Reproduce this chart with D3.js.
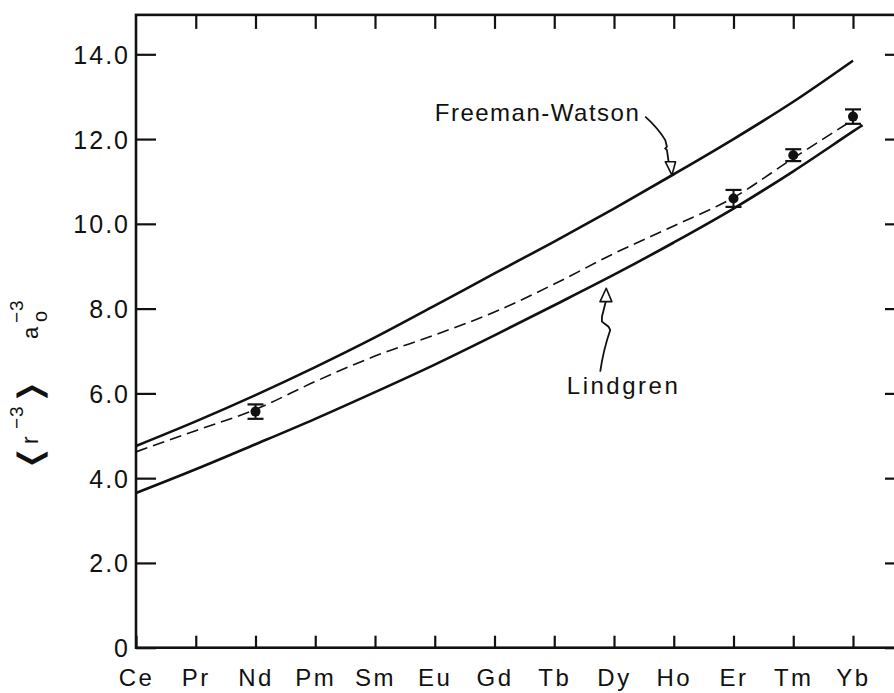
<!DOCTYPE html>
<html>
<head>
<meta charset="utf-8">
<script src="https://cdn.jsdelivr.net/npm/d3@7"></script>
<style>
  html, body { margin: 0; padding: 0; background: #fff; overflow: hidden; }
  svg { display: block; }
  text { font-family: "Liberation Sans", Arial, Helvetica, sans-serif; fill: #111; }
</style>
</head>
<body>
<svg id="chart" width="894" height="693"></svg>
<script>
// Rare-earth series (x positions are element indices, Ce = 0)
const elements = ["Ce", "Pr", "Nd", "Pm", "Sm", "Eu", "Gd", "Tb", "Dy", "Ho", "Er", "Tm", "Yb"];

// <r^-3> in units of a0^-3
const freemanWatson = [4.76, 5.34, 5.96, 6.62, 7.32, 8.07, 8.83, 9.58, 10.36, 11.17, 12.00, 12.88, 13.85];
const lindgrenPos = [0, 1, 2, 3, 4, 5, 6, 7, 8, 9, 10, 11, 12, 12.16];
const lindgren = [3.65, 4.21, 4.80, 5.40, 6.03, 6.68, 7.37, 8.08, 8.80, 9.56, 10.36, 11.24, 12.18, 12.33];
const interpolated = [4.62, 5.12, 5.62, 6.28, 6.88, 7.38, 7.92, 8.58, 9.30, 9.95, 10.62, 11.55, 12.45];

// Experimental values with error bars
const measuredElements = ["Nd", "Er", "Tm", "Yb"];
const measuredValues = [5.57, 10.60, 11.62, 12.53];
const measuredErrors = [0.17, 0.20, 0.14, 0.17];

const yTicks = [0, 2, 4, 6, 8, 10, 12, 14];
const yTickLabels = ["0", "2.0", "4.0", "6.0", "8.0", "10.0", "12.0", "14.0"];

const svg = d3.select("#chart");

const x = d3.scaleLinear().domain([0, 12]).range([136, 853]);
const y = d3.scaleLinear().domain([0, 14]).range([647.7, 54.3]);

const xMax = 12.87;   // right frame edge (beyond the last element)
const yMax = 14.93;   // top frame edge

const ink = "#111";

// Axes (ticks point inward on all four sides)
const gBottom = svg.append("g").attr("transform", `translate(0,${y(0)})`)
  .call(d3.axisBottom(x).tickValues(d3.range(0, 13)).tickSize(-12)
        .tickFormat(i => elements[i]));
gBottom.selectAll("text").attr("y", 38).attr("dy", 0)
  .style("font-size", "24px").style("letter-spacing", "2.5px");

const gTop = svg.append("g").attr("transform", `translate(0,${y(yMax)})`)
  .call(d3.axisTop(x).tickValues(d3.range(1, 13)).tickSize(-14).tickFormat(""));

const gLeft = svg.append("g").attr("transform", `translate(${x(0)},0)`)
  .call(d3.axisLeft(y).tickValues(yTicks).tickSize(-20)
        .tickFormat((d, i) => yTickLabels[i]));
gLeft.selectAll("text").attr("x", -6).attr("dy", "0.36em")
  .style("font-size", "25px").style("letter-spacing", "2px");

const gRight = svg.append("g").attr("transform", `translate(${x(xMax)},0)`)
  .call(d3.axisRight(y).tickValues(yTicks).tickSize(-20).tickFormat(""));

[gBottom, gTop, gLeft, gRight].forEach(g => {
  g.select(".domain").remove();
  g.selectAll(".tick line").attr("stroke", ink).attr("stroke-width", 2.2);
  g.selectAll("text").attr("fill", ink).style("font-family", "'Liberation Sans', Arial, sans-serif");
});

// Frame
svg.append("rect")
  .attr("x", x(0)).attr("y", y(yMax))
  .attr("width", x(xMax) - x(0)).attr("height", y(0) - y(yMax))
  .attr("fill", "none").attr("stroke", ink).attr("stroke-width", 2.6);

// Curves
const line = d3.line().curve(d3.curveMonotoneX);

svg.append("path")
  .attr("d", line(freemanWatson.map((v, i) => [x(i), y(v)])))
  .attr("fill", "none").attr("stroke", ink).attr("stroke-width", 2.6);

svg.append("path")
  .attr("d", line(lindgren.map((v, i) => [x(lindgrenPos[i]), y(v)])))
  .attr("fill", "none").attr("stroke", ink).attr("stroke-width", 2.6);

svg.append("path")
  .attr("d", line(interpolated.map((v, i) => [x(i), y(v)])))
  .attr("fill", "none").attr("stroke", ink).attr("stroke-width", 1.6)
  .attr("stroke-dasharray", "12,6");

// Measured points with error bars
const pts = svg.append("g").selectAll("g")
  .data(measuredElements.map((e, i) => ({ pos: elements.indexOf(e), v: measuredValues[i], err: measuredErrors[i] })))
  .join("g");
pts.append("line")
  .attr("x1", d => x(d.pos)).attr("x2", d => x(d.pos))
  .attr("y1", d => y(d.v + d.err)).attr("y2", d => y(d.v - d.err))
  .attr("stroke", ink).attr("stroke-width", 2);
pts.append("line")
  .attr("x1", d => x(d.pos) - 8).attr("x2", d => x(d.pos) + 8)
  .attr("y1", d => y(d.v + d.err)).attr("y2", d => y(d.v + d.err))
  .attr("stroke", ink).attr("stroke-width", 2.2);
pts.append("line")
  .attr("x1", d => x(d.pos) - 8).attr("x2", d => x(d.pos) + 8)
  .attr("y1", d => y(d.v - d.err)).attr("y2", d => y(d.v - d.err))
  .attr("stroke", ink).attr("stroke-width", 2.2);
pts.append("circle")
  .attr("cx", d => x(d.pos)).attr("cy", d => y(d.v)).attr("r", 5)
  .attr("fill", ink);

// Curve labels with hand-drawn style arrows
svg.append("text")
  .attr("x", x(5.0)).attr("y", y(12.42))
  .attr("textLength", 204).attr("lengthAdjust", "spacing")
  .style("font-size", "24px")
  .text("Freeman-Watson");

const fwTip = [x(8.97), y(11.15)];
const gFw = svg.append("g").attr("transform", `translate(${fwTip[0]},${fwTip[1]})`);
gFw.append("path")
  .attr("d", "M-26.7,-58.4 Q-14,-47 -6.7,-35 L-5,-28.4 L-6.7,-26.7 L-5,-25 L-3.4,-13.4")
  .attr("fill", "none").attr("stroke", ink).attr("stroke-width", 1.8);
gFw.append("path")
  .attr("d", "M-6.7,-13.4 L3.6,-13.4 L0,0 Z")
  .attr("fill", "#fff").attr("stroke", ink).attr("stroke-width", 1.6).attr("stroke-linejoin", "round");

svg.append("text")
  .attr("x", x(7.21)).attr("y", y(5.99))
  .attr("textLength", 111).attr("lengthAdjust", "spacing")
  .style("font-size", "24px")
  .text("Lindgren");

const lgTip = [x(7.87), y(8.48)];
const gLg = svg.append("g").attr("transform", `translate(${lgTip[0]},${lgTip[1]})`);
gLg.append("path")
  .attr("d", "M-6,83.4 Q-3,62 4,41.7 L2.3,38.4 L-4.3,33.4 L-4.3,28.4 L-0.5,13.4")
  .attr("fill", "none").attr("stroke", ink).attr("stroke-width", 1.8);
gLg.append("path")
  .attr("d", "M-6.2,13.4 L5.6,13.4 L0,0 Z")
  .attr("fill", "#fff").attr("stroke", ink).attr("stroke-width", 1.6).attr("stroke-linejoin", "round");

// Y-axis title: <r^-3>  a_o^-3 (rotated, reading upward)
const gT = svg.append("g").attr("transform", "translate(38,0) rotate(-90)");
function bracket(ch, u) {
  gT.append("text").attr("x", 0).attr("y", 0)
    .attr("transform", `translate(${u},5) scale(2.0,1.18)`)
    .style("font-family", "'DejaVu Sans', sans-serif")
    .style("font-size", "30px").style("font-weight", "200")
    .text(ch);
}
bracket("\u27E8", -470);
gT.append("text").attr("x", -444).attr("y", 0).style("font-size", "23px").text("r");
gT.append("text").attr("x", -429).attr("y", -15).style("font-size", "19px").style("letter-spacing", "1px").text("\u2212" + "3");
bracket("\u27E9", -403);
gT.append("text").attr("x", -339).attr("y", 0).style("font-size", "22px").text("a");
gT.append("text").attr("x", -322).attr("y", 9).style("font-size", "20px").text("o");
gT.append("text").attr("x", -323).attr("y", -15).style("font-size", "19px").style("letter-spacing", "1px").text("\u2212" + "3");
</script>
</body>
</html>
